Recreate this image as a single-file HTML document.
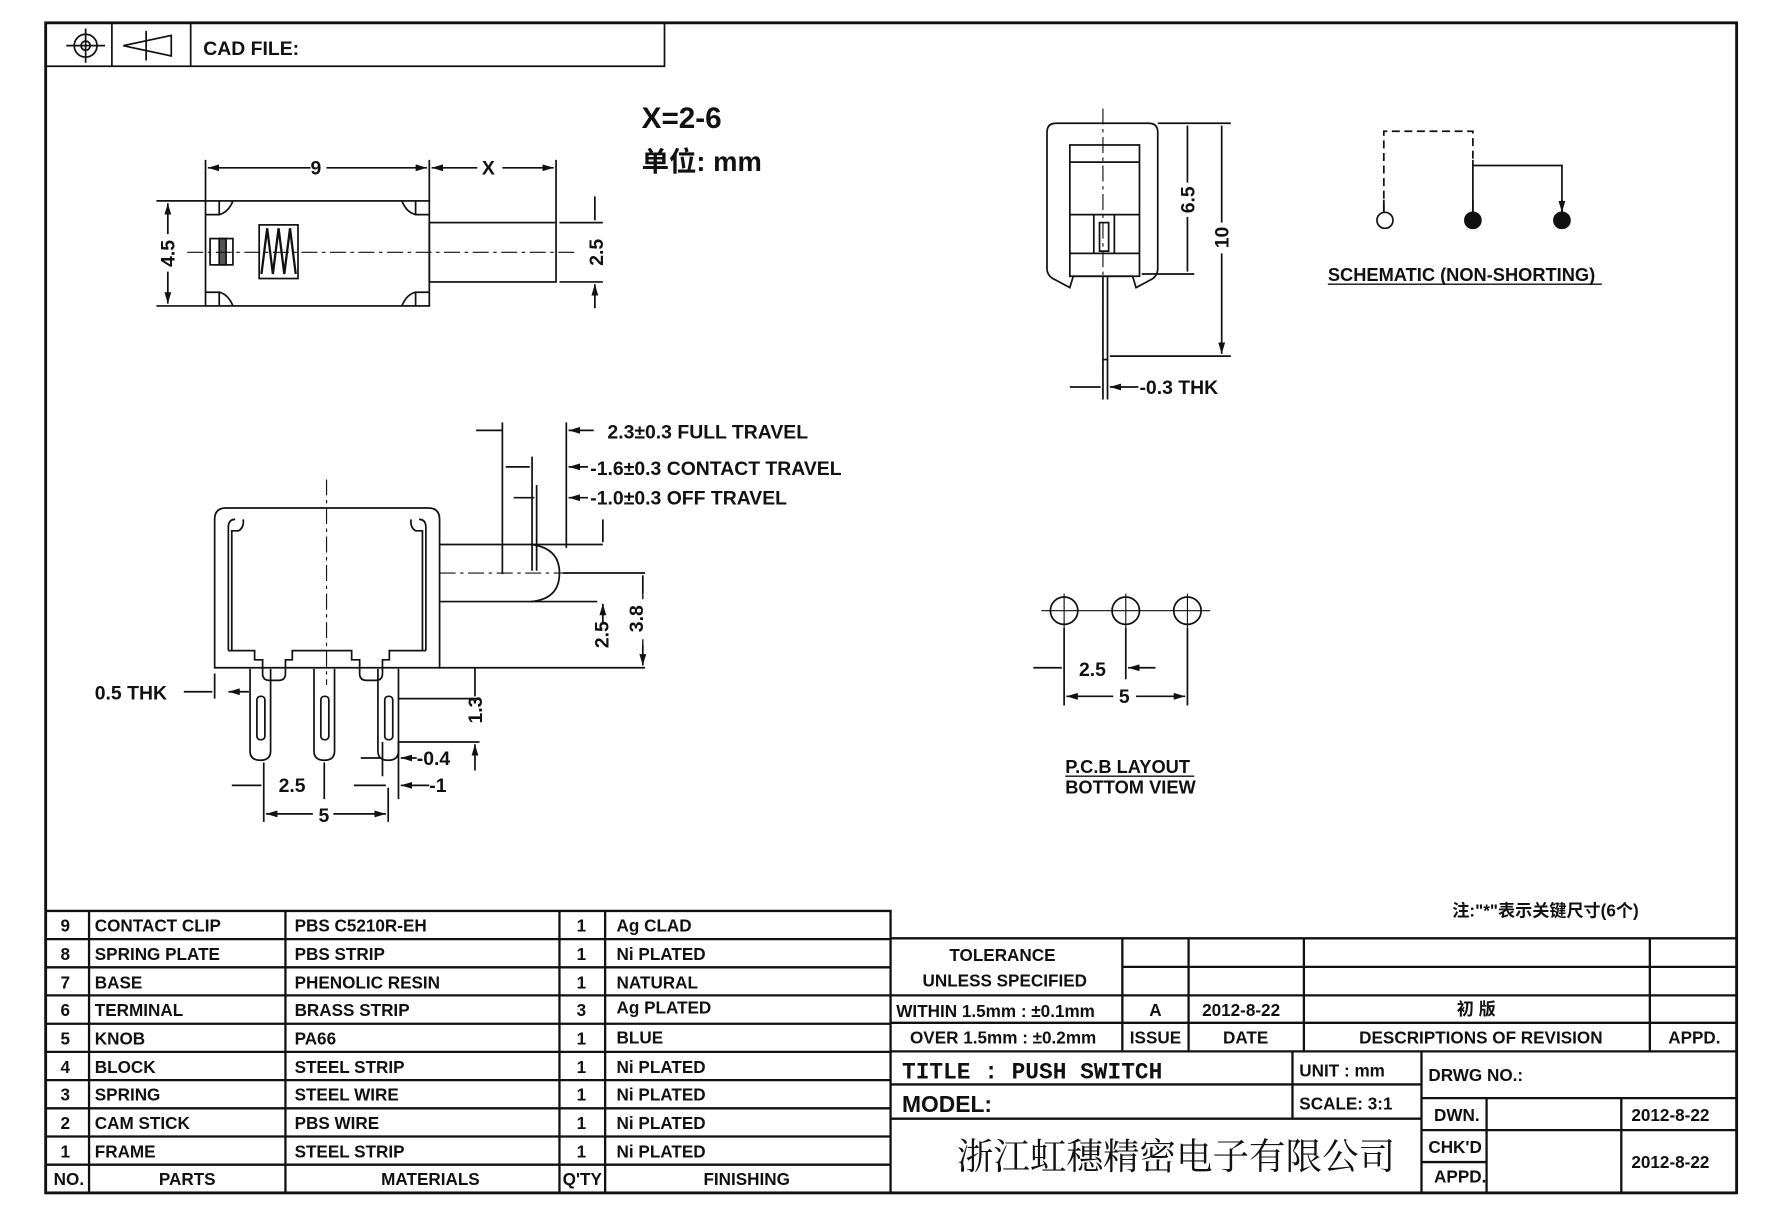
<!DOCTYPE html>
<html><head><meta charset="utf-8"><style>
html,body{margin:0;padding:0;background:#fff}
svg{display:block}
text{font-family:"Liberation Sans Narrow","Liberation Sans",sans-serif;font-weight:bold;fill:#111}
.c{font-family:"Liberation Serif","Noto Serif CJK SC",serif;font-weight:normal}
</style></head><body>
<svg width="1788" height="1218" viewBox="0 0 1566 1067" preserveAspectRatio="none" xmlns="http://www.w3.org/2000/svg">
<defs>
<marker id="a" viewBox="0 0 10 6" refX="10" refY="3" markerWidth="10" markerHeight="6" orient="auto-start-reverse" markerUnits="userSpaceOnUse"><path d="M0,0L10,3L0,6z" fill="#111"/></marker>
</defs>
<g stroke="#111" fill="none" stroke-width="1.5">
<rect x="40" y="20" width="1481" height="1025" stroke-width="2.5"/>
<path d="M40,58H582V20M167,20V58M98,20V58"/>
<circle cx="75" cy="40" r="10"/><circle cx="75" cy="40" r="4"/><path d="M58,40H92M75,25V55"/>
<path d="M108,40L150,31V49ZM128,27V53"/>

<!-- top view -->
<rect x="180" y="176" width="196" height="92"/>
<path d="M180,188H192V176M364,176V188H376M180,256H192V268M364,268V256H376"/>
<path d="M192,188Q200,186 204,176M364,188Q356,186 352,176M192,256Q200,258 204,268M364,256Q356,258 352,268"/>
<rect x="376" y="195" width="111" height="52"/>
<rect x="184" y="209" width="20" height="23"/><rect x="192" y="209" width="6" height="23" fill="#555"/>
<rect x="227" y="197" width="34" height="47"/>
<path d="M229,240L234,200L239,240L244,200L249,240L254,200L259,240" stroke-width="2"/>
<path d="M164,221H505" stroke-dasharray="14,4,3,4" stroke-width="1"/>
<path d="M180,140V176M376,140V176M487,140V195"/>
<path d="M182,147H272M286,147H374" marker-start="url(#a)" marker-end="url(#a)"/>
<path d="M378,147H418M440,147H485" marker-start="url(#a)" marker-end="url(#a)"/>
<path d="M137,176H180M137,268H180"/>
<path d="M147,178V205M147,238V266" marker-start="url(#a)" marker-end="url(#a)"/>
<path d="M490,195H528M490,247H528"/>
<path d="M521,172V193M521,270V249" marker-end="url(#a)"/>

<!-- side view -->
<path d="M188,585V455Q188,445 198,445H375Q385,445 385,455V585Z"/>
<path d="M200,570V462Q200,455 206,455M373,570V462Q373,455 367,455"/>
<path d="M203,570V465H209Q214,462 213,455M370,570V465H364Q359,462 360,455"/>
<path d="M200,570H223V578H230V590Q230,596 236,596H244Q250,596 250,590V578H256V570H308V578H315V590Q315,596 321,596H329Q335,596 335,590V578H341V570H373"/>
<path d="M286,420V600" stroke-dasharray="14,4,3,4" stroke-width="1"/>
<path d="M219,586V658Q219,666 228,666Q237,666 237,658V586M275,586V658Q275,666 284,666Q293,666 293,658V586M331,586V658Q331,666 340,666Q349,666 349,658V586"/>
<rect x="225" y="610" width="7" height="38" rx="3"/><rect x="281" y="610" width="7" height="38" rx="3"/><rect x="337" y="610" width="7" height="38" rx="3"/>
<path d="M385,477H465Q490,480 490,502Q490,525 465,527H385"/>
<path d="M385,502H505" stroke-dasharray="14,4,3,4" stroke-width="1"/>
<path d="M465,477H528M465,527H523M493,502H565M385,585H565"/>
<path d="M440,370V503M466,400V500M470,425V500M496,370V480"/>
<path d="M417,377H440M520,377H498" marker-end="url(#a)"/>
<path d="M443,409H464M515,409H498" marker-end="url(#a)"/>
<path d="M450,436H468M515,436H498" marker-end="url(#a)"/>
<path d="M528,455V475M528,545V529" marker-end="url(#a)"/>
<path d="M563,504V525M563,560V581" stroke-width="1.2"/>
<path d="M563,520V504M563,565V583" marker-end="url(#a)"/>
<path d="M161,606H186M218,606H200" marker-end="url(#a)"/>
<path d="M188,590V612"/>
<path d="M349,612H420M349,650H420"/>
<path d="M416,585V610M416,675V652" marker-end="url(#a)"/>
<path d="M335,650V680M349,650V700M231,668V720M284,668V700M340,690V720"/>
<path d="M316,664H333M365,664H351" marker-end="url(#a)"/>
<path d="M203,688H229M310,688H338M376,688H351" marker-end="url(#a)"/>
<path d="M233,713H274M292,713H338" marker-start="url(#a)" marker-end="url(#a)"/>

<!-- right view -->
<path d="M917,235V116Q917,108 925,108H1006Q1014,108 1014,116V235Q1014,242 1008,245L995,252L992,242H940L937,252L924,245Q917,242 917,235Z"/>
<rect x="937" y="127" width="61" height="115"/><path d="M937,142H998M937,188H998M937,222H998"/>
<path d="M958,188V222M976,188V222"/><rect x="963" y="195" width="8" height="25"/>
<path d="M966,95V330" stroke-dasharray="14,4,3,4" stroke-width="1"/>
<path d="M966,242V315H970V242M966,315V350M970,315V350"/>
<path d="M1014,108H1078M1000,240H1046M972,312H1078"/>
<path d="M1040,160V110M1040,190V238M1070,195V110M1070,222V310" marker-end="url(#a)"/>
<path d="M937,339H964M997,339H972" marker-end="url(#a)"/>

<!-- schematic -->
<path d="M1212,185V115H1290V140" stroke-dasharray="7,4"/>
<path d="M1290,140V186M1290,145H1368V186" />
<path d="M1212,175V186M1290,175V186M1368,175V186" marker-end="url(#a)"/>
<circle cx="1213" cy="193" r="7"/><circle cx="1290" cy="193" r="7" fill="#111"/><circle cx="1368" cy="193" r="7" fill="#111"/>
<path d="M1163,249H1403" stroke-width="1.2"/>

<!-- pcb -->
<circle cx="932" cy="535" r="12"/><circle cx="986" cy="535" r="12"/><circle cx="1040" cy="535" r="12"/>
<path d="M912,535H1060M932,520V550M986,520V550M1040,520V550" stroke-width="1"/>
<path d="M932,550V618M986,550V595M1040,550V618"/>
<path d="M905,585H930M1012,585H988" marker-end="url(#a)"/>
<path d="M934,610H975M995,610H1038" marker-start="url(#a)" marker-end="url(#a)"/>
<path d="M933,680H1046" stroke-width="1.2"/>

<!-- parts table -->
<path d="M40,798H780V1045M40,822.7H780M40,847.4H780M40,872H780M40,896.8H780M40,921.5H780M40,946.2H780M40,970.9H780M40,995.6H780M40,1020.3H780" stroke-width="2"/>
<path d="M78,798V1045M250,798V1045M490,798V1045M530,798V1045" stroke-width="2"/>
<!-- title block -->
<path d="M780,822H1521M983,847H1521M780,872H1521M780,896H1521M780,921H1521" stroke-width="2"/>
<path d="M983,822V921M1041,822V921M1142,822V921M1445,822V921" stroke-width="2"/>
<path d="M780,950H1245M780,980H1245M1132,921V980M1245,921V1045M1245,962H1521M1245,990H1521M1245,1018H1302M1302,962V1045M1420,962V1045" stroke-width="2"/>
</g>

<g font-size="17">
<text x="178" y="48">CAD FILE:</text>
<text x="272" y="153">9</text><text x="422" y="153">X</text>
<text x="153" y="222" transform="rotate(-90 153 222)" text-anchor="middle">4.5</text>
<text x="528" y="221" transform="rotate(-90 528 221)" text-anchor="middle">2.5</text>
<text x="532" y="384">2.3±0.3 FULL TRAVEL</text>
<text x="517" y="416">-1.6±0.3 CONTACT TRAVEL</text>
<text x="517" y="442">-1.0±0.3 OFF TRAVEL</text>
<text x="533" y="556" transform="rotate(-90 533 556)" text-anchor="middle">2.5</text>
<text x="563" y="542" transform="rotate(-90 563 542)" text-anchor="middle">3.8</text>
<text x="83" y="613">0.5 THK</text>
<text x="422" y="622" transform="rotate(-90 422 622)" text-anchor="middle">1.3</text>
<text x="365" y="670">-0.4</text>
<text x="376" y="694">-1</text>
<text x="244" y="694">2.5</text>
<text x="279" y="720">5</text>
<text x="1046" y="175" transform="rotate(-90 1046 175)" text-anchor="middle">6.5</text>
<text x="1076" y="208" transform="rotate(-90 1076 208)" text-anchor="middle">10</text>
<text x="998" y="345">-0.3 THK</text>
<text x="1163" y="246" font-size="16">SCHEMATIC (NON-SHORTING)</text>
<text x="945" y="592">2.5</text><text x="980" y="616">5</text>
<text x="933" y="677" font-size="16">P.C.B LAYOUT</text>
<text x="933" y="695" font-size="16">BOTTOM VIEW</text>
</g>
<text x="562" y="112" font-size="26" font-weight="normal" style="font-family:'Liberation Sans',sans-serif">X=2-6</text>
<text x="562" y="150" font-size="24" style="font-family:'Liberation Sans','Noto Sans CJK SC',sans-serif">单位: mm</text>
<text x="1272" y="803" font-size="15" style="font-family:'Liberation Sans','Noto Sans CJK SC',sans-serif">注:"*"表示关键尺寸(6个)</text>

<g font-size="15">
<text x="53" y="816">9</text><text x="83" y="816">CONTACT CLIP</text><text x="258" y="816">PBS C5210R-EH</text><text x="505" y="816">1</text><text x="540" y="816">Ag CLAD</text>
<text x="53" y="841">8</text><text x="83" y="841">SPRING PLATE</text><text x="258" y="841">PBS STRIP</text><text x="505" y="841">1</text><text x="540" y="841">Ni PLATED</text>
<text x="53" y="866">7</text><text x="83" y="866">BASE</text><text x="258" y="866">PHENOLIC RESIN</text><text x="505" y="866">1</text><text x="540" y="866">NATURAL</text>
<text x="53" y="890">6</text><text x="83" y="890">TERMINAL</text><text x="258" y="890">BRASS STRIP</text><text x="505" y="890">3</text><text x="540" y="888">Ag PLATED</text>
<text x="53" y="915">5</text><text x="83" y="915">KNOB</text><text x="258" y="915">PA66</text><text x="505" y="915">1</text><text x="540" y="914">BLUE</text>
<text x="53" y="940">4</text><text x="83" y="940">BLOCK</text><text x="258" y="940">STEEL STRIP</text><text x="505" y="940">1</text><text x="540" y="940">Ni PLATED</text>
<text x="53" y="964">3</text><text x="83" y="964">SPRING</text><text x="258" y="964">STEEL WIRE</text><text x="505" y="964">1</text><text x="540" y="964">Ni PLATED</text>
<text x="53" y="989">2</text><text x="83" y="989">CAM STICK</text><text x="258" y="989">PBS WIRE</text><text x="505" y="989">1</text><text x="540" y="989">Ni PLATED</text>
<text x="53" y="1014">1</text><text x="83" y="1014">FRAME</text><text x="258" y="1014">STEEL STRIP</text><text x="505" y="1014">1</text><text x="540" y="1014">Ni PLATED</text>
<text x="47" y="1038">NO.</text><text x="164" y="1038" text-anchor="middle">PARTS</text><text x="377" y="1038" text-anchor="middle">MATERIALS</text><text x="510" y="1038" text-anchor="middle">Q'TY</text><text x="654" y="1038" text-anchor="middle">FINISHING</text>
<text x="878" y="842" text-anchor="middle">TOLERANCE</text>
<text x="880" y="864" text-anchor="middle">UNLESS  SPECIFIED</text>
<text x="785" y="891">WITHIN 1.5mm : ±0.1mm</text>
<text x="797" y="914">OVER 1.5mm : ±0.2mm</text>
<text x="1012" y="890" text-anchor="middle">A</text><text x="1012" y="914" text-anchor="middle">ISSUE</text>
<text x="1087" y="890" text-anchor="middle">2012-8-22</text><text x="1091" y="914" text-anchor="middle">DATE</text>
<text x="1293" y="889" text-anchor="middle" style="font-family:'Liberation Sans','Noto Sans CJK SC',sans-serif">初 版</text>
<text x="1297" y="914" text-anchor="middle">DESCRIPTIONS OF REVISION</text>
<text x="1484" y="914" text-anchor="middle">APPD.</text>
<text x="1138" y="943">UNIT :  mm</text><text x="1138" y="972">SCALE:  3:1</text>
<text x="1251" y="947">DRWG NO.:</text>
<text x="1256" y="982">DWN.</text><text x="1463" y="982" text-anchor="middle">2012-8-22</text>
<text x="1251" y="1010">CHK'D</text><text x="1256" y="1036">APPD.</text><text x="1463" y="1023" text-anchor="middle">2012-8-22</text>
</g>
<text x="790" y="945" font-size="20" style="font-family:'Liberation Mono',monospace">TITLE : PUSH SWITCH</text>
<text x="790" y="974" font-size="20">MODEL:</text>
<text x="1030" y="1024" text-anchor="middle" font-size="32" class="c" style="font-family:'Noto Serif CJK SC',serif">浙江虹穗精密电子有限公司</text>
</svg>
</body></html>
